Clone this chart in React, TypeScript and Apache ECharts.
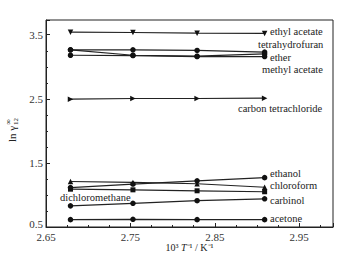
import React, { useEffect, useRef } from "react";
import * as echarts from "echarts";

const xValues = [2.679, 2.753, 2.829, 2.909];
const ethylAcetate = [3.54, 3.535, 3.525, 3.52];
const tetrahydrofuran = [3.265, 3.265, 3.255, 3.23];
const ether = [3.265, 3.18, 3.165, 3.2];
const methylAcetate = [3.18, 3.175, 3.16, 3.16];
const carbonTetrachloride = [2.495, 2.505, 2.505, 2.51];
const ethanol = [1.115, 1.17, 1.22, 1.27];
const chloroform = [1.21, 1.195, 1.175, 1.12];
const dichloromethane = [1.09, 1.08, 1.065, 1.05];
const carbinol = [0.83, 0.87, 0.91, 0.94];
const acetone = [0.615, 0.62, 0.615, 0.615];

const seriesDefs: [string, number[], string, number][] = [
  ["ethyl acetate", ethylAcetate, "triangle", 180],
  ["tetrahydrofuran", tetrahydrofuran, "circle", 0],
  ["ether", ether, "circle", 0],
  ["methyl acetate", methylAcetate, "circle", 0],
  ["carbon tetrachloride", carbonTetrachloride, "triangle", -90],
  ["ethanol", ethanol, "circle", 0],
  ["chloroform", chloroform, "triangle", 0],
  ["dichloromethane", dichloromethane, "rect", 0],
  ["carbinol", carbinol, "circle", 0],
  ["acetone", acetone, "circle", 0],
];

const labels: [string, number, number][] = [
  ["ethyl acetate", 270, 31],
  ["tetrahydrofuran", 258, 44],
  ["ether", 270, 57],
  ["methyl acetate", 262, 69],
  ["carbon tetrachloride", 238, 108],
  ["ethanol", 270, 173],
  ["chloroform", 270, 185],
  ["carbinol", 270, 200],
  ["acetone", 270, 218],
  ["dichloromethane", 60, 197],
];

const FAMILY = "'Liberation Serif', 'Times New Roman', serif";

export default function App() {
  const ref = useRef<HTMLDivElement>(null);
  useEffect(() => {
    if (!ref.current) return;
    const chart = echarts.init(ref.current, undefined, { renderer: "svg" });
    chart.setOption({
      animation: false,
      backgroundColor: "#fff",
      textStyle: { fontFamily: FAMILY },
      grid: {
        left: 46,
        right: 7,
        top: 20,
        bottom: 30,
        containLabel: false,
        outerBoundsMode: "none",
        show: true,
        borderColor: "#222",
        borderWidth: 1,
      },
      xAxis: {
        type: "value",
        min: 2.65,
        max: 2.99,
        interval: 0.1,
        name: "{n|10³ }{i|T}{n|⁻¹ / K⁻¹}",
        nameLocation: "middle",
        nameGap: 15,
        nameMoveOverlap: false,
        nameTextStyle: {
          lineHeight: 11,
          rich: {
            n: { fontFamily: FAMILY, fontSize: 10, lineHeight: 11, color: "#222" },
            i: { fontFamily: FAMILY, fontSize: 10, lineHeight: 11, fontStyle: "italic", color: "#222" },
          },
        },
        axisLine: { lineStyle: { color: "#222" } },
        axisTick: { inside: true, length: 4, lineStyle: { color: "#222" } },
        minorTick: { show: true, splitNumber: 4, length: 2, lineStyle: { color: "#222" } },
        splitLine: { show: false },
        axisLabel: {
          showMaxLabel: false,
          margin: 4,
          fontFamily: FAMILY,
          fontSize: 11,
          color: "#333",
          formatter: (v: number) => v.toFixed(2),
        },
      },
      yAxis: {
        type: "value",
        min: 0.5,
        max: 3.73,
        interval: 1,
        axisLine: { show: true, lineStyle: { color: "#222" } },
        axisTick: { show: true, inside: true, length: 4, lineStyle: { color: "#222" } },
        minorTick: { show: true, splitNumber: 4, length: 2, lineStyle: { color: "#222" } },
        splitLine: { show: false },
        axisLabel: {
          showMaxLabel: false,
          margin: 3,
          fontFamily: FAMILY,
          fontSize: 11,
          color: "#333",
          formatter: (v: number) => (Math.abs(v - 0.5) < 1e-6 ? `{low|${v.toFixed(1)}}` : v.toFixed(1)),
          rich: {
            low: { fontFamily: FAMILY, fontSize: 11, color: "#333", padding: [0, 0, 7, 0] },
          },
        },
      },
      series: seriesDefs.map(([name, vals, sym, rot]) => ({
        name,
        type: "line",
        data: vals.map((v, i) => [xValues[i], v]),
        symbol: sym,
        symbolRotate: rot,
        symbolSize: sym === "rect" ? 5 : 5.5,
        showAllSymbol: true,
        lineStyle: { color: "#222", width: 1.2 },
        itemStyle: { color: "#111" },
      })),
      graphic: [
        ...labels.map(([t, x, y]) => ({
          type: "text",
          x,
          y,
          style: {
            text: t,
            font: `10.5px ${FAMILY}`,
            fill: "#222",
            verticalAlign: "middle",
          },
        })),
        {
          type: "group",
          x: 12,
          y: 142,
          rotation: Math.PI / 2,
          children: [
            { type: "text", x: 0, y: 0, style: { text: "ln γ", font: `11px ${FAMILY}`, fill: "#222", verticalAlign: "middle" } },
            { type: "text", x: 17, y: -4, style: { text: "∞", font: `8px ${FAMILY}`, fill: "#222", verticalAlign: "middle" } },
            { type: "text", x: 17, y: 4, style: { text: "12", font: `7px ${FAMILY}`, fill: "#222", verticalAlign: "middle" } },
          ],
        },
      ],
    });
    return () => chart.dispose();
  }, []);
  return <div ref={ref} style={{ width: 340, height: 257, position: "absolute", left: 0, top: 0 }} />;
}
